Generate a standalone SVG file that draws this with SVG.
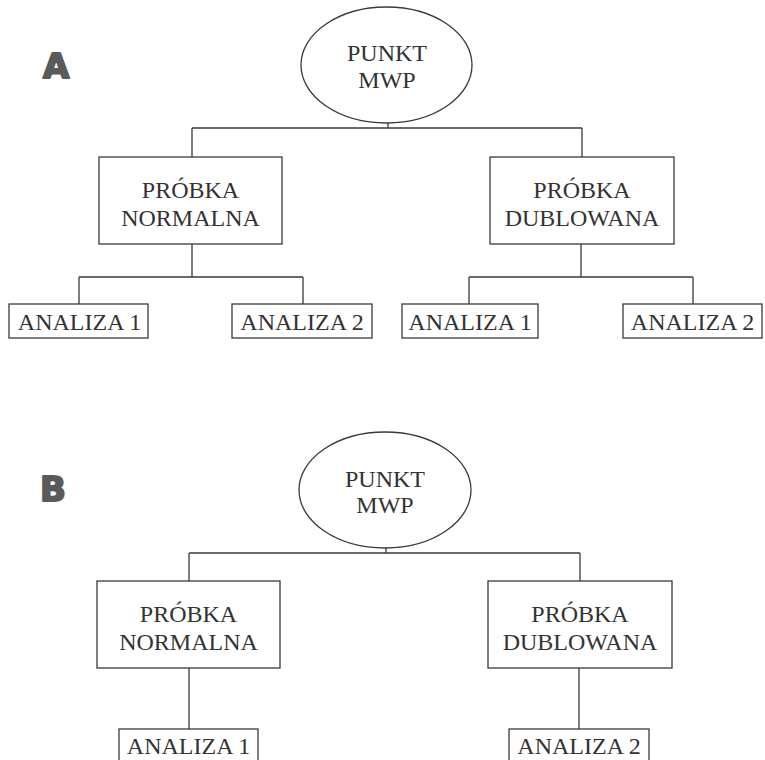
<svg xmlns="http://www.w3.org/2000/svg" width="765" height="760" viewBox="0 0 765 760">
<style>
.box{fill:#fff;stroke:#3a3a3a;stroke-width:1.3}
.ln{fill:none;stroke:#3a3a3a;stroke-width:1.3}
.t{font-family:"Liberation Serif","Times New Roman",serif;font-size:24px;fill:#333;text-anchor:middle}
.lab{font-family:"DejaVu Sans",sans-serif;font-weight:bold;font-size:34px;fill:#5a5a5a;stroke:#5a5a5a;stroke-width:2;stroke-linejoin:round}
</style>
<rect width="765" height="760" fill="#fff"/>
<text class="lab" x="43" y="78">A</text>
<text class="lab" x="40" y="501">B</text>
<g id="connectors">
<path class="ln" d="M388 123V128M192 128H582M192 128V157M582 128V157"/>
<path class="ln" d="M192 244V277M79 277H303M79 277V304M303 277V304"/>
<path class="ln" d="M581 244V277M469 277H693M469 277V304M693 277V304"/>
<path class="ln" d="M386 548V553M189 553H580M189 553V581M580 553V581"/>
<path class="ln" d="M189 668V729M579 668V729"/>
</g>
<g id="a-punkt"><ellipse class="box" cx="386.5" cy="65" rx="85.5" ry="58"/><text class="t" x="387" y="61">PUNKT</text><text class="t" x="387" y="88">MWP</text></g>
<g id="a-normalna"><rect class="box" x="99" y="157" width="183" height="87"/><text class="t" x="190.5" y="198">PRÓBKA</text><text class="t" x="190.5" y="226">NORMALNA</text></g>
<g id="a-dublowana"><rect class="box" x="490" y="157" width="184" height="87"/><text class="t" x="582" y="198">PRÓBKA</text><text class="t" x="582" y="226">DUBLOWANA</text></g>
<g id="a-n-analiza1"><rect class="box" x="9" y="304" width="139" height="34"/><text class="t" x="79.5" y="330">ANALIZA 1</text></g>
<g id="a-n-analiza2"><rect class="box" x="232" y="304" width="140" height="34"/><text class="t" x="302" y="330">ANALIZA 2</text></g>
<g id="a-d-analiza1"><rect class="box" x="402" y="304" width="136" height="34"/><text class="t" x="470" y="330">ANALIZA 1</text></g>
<g id="a-d-analiza2"><rect class="box" x="623" y="304" width="139" height="34"/><text class="t" x="692.5" y="330">ANALIZA 2</text></g>
<g id="b-punkt"><ellipse class="box" cx="385" cy="490" rx="86" ry="58"/><text class="t" x="385" y="487">PUNKT</text><text class="t" x="385" y="513">MWP</text></g>
<g id="b-normalna"><rect class="box" x="97" y="581" width="183" height="87"/><text class="t" x="188.5" y="622">PRÓBKA</text><text class="t" x="188.5" y="650">NORMALNA</text></g>
<g id="b-dublowana"><rect class="box" x="488" y="581" width="184" height="87"/><text class="t" x="580" y="622">PRÓBKA</text><text class="t" x="580" y="650">DUBLOWANA</text></g>
<g id="b-analiza1"><rect class="box" x="119" y="729" width="139" height="36"/><text class="t" x="188.5" y="754">ANALIZA 1</text></g>
<g id="b-analiza2"><rect class="box" x="509" y="729" width="140" height="36"/><text class="t" x="579" y="754">ANALIZA 2</text></g>
</svg>
